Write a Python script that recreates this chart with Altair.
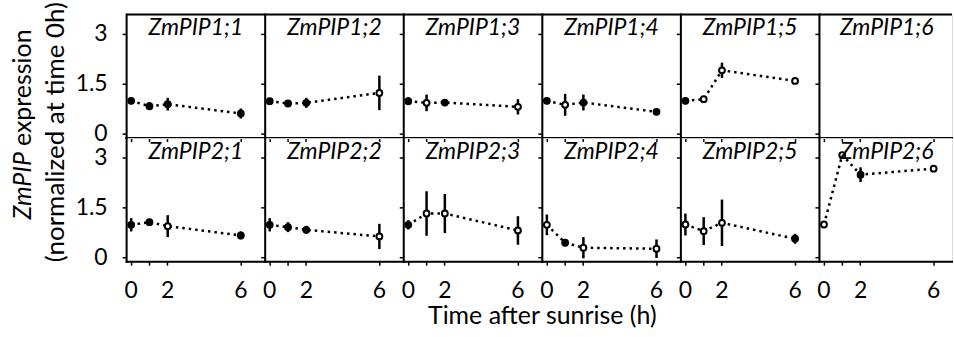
import altair as alt
import pandas as pd

FONT = "Lato"

hours = [0, 1, 2, 6]

genes_top = ["ZmPIP1;1", "ZmPIP1;2", "ZmPIP1;3", "ZmPIP1;4", "ZmPIP1;5", "ZmPIP1;6"]
genes_bottom = ["ZmPIP2;1", "ZmPIP2;2", "ZmPIP2;3", "ZmPIP2;4", "ZmPIP2;5", "ZmPIP2;6"]

# mean expression (normalized at 0 h)
mean_top = [
    [1.00, 0.84, 0.90, 0.62],
    [0.99, 0.92, 0.94, 1.24],
    [0.99, 0.94, 0.95, 0.82],
    [1.00, 0.88, 0.95, 0.67],
    [1.00, 1.05, 1.92, 1.60],
    [],
]
mean_bottom = [
    [0.99, 1.07, 0.95, 0.67],
    [0.99, 0.92, 0.84, 0.64],
    [0.99, 1.33, 1.33, 0.82],
    [0.99, 0.45, 0.30, 0.27],
    [1.00, 0.80, 1.05, 0.57],
    [1.00, 3.09, 2.50, 2.68],
]
# error (+/-)
err_top = [
    [0.10, 0.12, 0.19, 0.15],
    [0.10, 0.08, 0.15, 0.52],
    [0.12, 0.25, 0.07, 0.23],
    [0.10, 0.33, 0.24, 0.08],
    [0.10, 0.00, 0.23, 0.00],
    [],
]
err_bottom = [
    [0.20, 0.10, 0.33, 0.12],
    [0.20, 0.15, 0.12, 0.38],
    [0.14, 0.67, 0.59, 0.43],
    [0.31, 0.10, 0.32, 0.28],
    [0.33, 0.42, 0.70, 0.15],
    [0.00, 0.00, 0.22, 0.00],
]
# 1 = filled marker, 0 = open marker
filled_top = [
    [1, 1, 1, 1],
    [1, 1, 1, 0],
    [1, 0, 1, 0],
    [1, 0, 1, 1],
    [1, 0, 0, 0],
    [],
]
filled_bottom = [
    [1, 1, 0, 1],
    [1, 1, 1, 0],
    [1, 0, 0, 0],
    [0, 1, 0, 0],
    [0, 0, 0, 1],
    [0, 0, 1, 0],
]

y_ticks = [0, 1.5, 3]
x_ticks = [0, 1, 2, 6]

W = 139
W_LAST = 133
H = 124
PX_PER_H = 18.33
X_MIN = -0.25
Y_DOM = [-0.12, 3.6]


def panel(gene, means, errs, filled, row, col):
    width = W_LAST if col == 5 else W
    x_max = X_MIN + width / PX_PER_H
    n = len(means)
    df = pd.DataFrame({
        "t": pd.Series(hours[:n], dtype=float),
        "m": pd.Series(means, dtype=float),
        "lo": pd.Series([m - e for m, e in zip(means, errs)], dtype=float),
        "hi": pd.Series([m + e for m, e in zip(means, errs)], dtype=float),
        "fill": pd.Series(["black" if f else "white" for f in filled], dtype=object),
    })

    x_axis_kwargs = dict(
        values=x_ticks, grid=False, domain=True, domainColor="black", domainWidth=2,
        domainCap="square", ticks=True, tickSize=4, tickColor="black", tickWidth=1.5,
        translate=0,
        labels=(row == 1), labelFont=FONT, labelFontSize=23, labelColor="black",
        labelPadding=14, labelExpr="datum.value == 1 ? '' : toString(datum.value)",
        labelFlush=False, labelOverlap=False, title=None,
    )
    if row == 1 and col == 3:
        x_axis_kwargs.update(
            title="Time after sunrise (h)", titleFont=FONT, titleFontSize=25,
            titleFontWeight="normal", titleColor="black", titleX=0, titleY=62,
            titleAlign="center", titleBaseline="alphabetic",
        )
    x_axis = alt.Axis(**x_axis_kwargs)
    y_axis = alt.Axis(
        values=y_ticks, grid=False, domain=True, domainColor="black", domainWidth=2,
        domainCap="square", ticks=True, tickSize=4, tickColor="black", tickWidth=1.5,
        translate=0,
        labels=(col == 0), labelFont=FONT, labelFontSize=23, labelColor="black",
        labelPadding=15, labelExpr="toString(datum.value)", labelFlush=False,
        labelOverlap=False, title=None,
    )
    xs = alt.Scale(domain=[X_MIN, x_max], nice=False, zero=False)
    ys = alt.Scale(domain=Y_DOM, nice=False, zero=False)

    x_enc = alt.X("t:Q", scale=xs, axis=x_axis)
    base = alt.Chart(df)
    line = base.mark_line(color="black", strokeWidth=2.5, strokeDash=[2.5, 4]).encode(
        x=x_enc, y=alt.Y("m:Q", scale=ys, axis=y_axis)
    )
    bars = base.mark_rule(color="black", strokeWidth=2.5).encode(
        x=x_enc, y=alt.Y("lo:Q", scale=ys, axis=y_axis), y2="hi:Q"
    )
    pts = base.mark_point(shape="circle", size=34, stroke="black", strokeWidth=2,
                          opacity=1, filled=False).encode(
        x=x_enc, y=alt.Y("m:Q", scale=ys, axis=y_axis),
        fill=alt.Fill("fill:N", scale=None),
    )
    one = pd.DataFrame({"a": [0]})
    title = alt.Chart(one).mark_text(
        text=gene, font=FONT, fontSize=23, fontStyle="italic", color="black",
        align="center", baseline="alphabetic",
    ).encode(x=alt.value(width / 2 + (1 if col == 5 else 0)), y=alt.value(21))
    layers = [line, bars, pts, title]
    if row == 0:
        top = alt.Chart(one).mark_rule(color="black", strokeWidth=2).encode(
            x=alt.value(0), x2=alt.value(width), y=alt.value(0)
        )
        layers.append(top)
    if row == 0 and col == 0:
        anchor = alt.Chart(one).mark_rule(strokeOpacity=0, color="white").encode(
            x=alt.value(-126), x2=alt.value(-120), y=alt.value(-11)
        )
        yt_a = alt.Chart(one).mark_text(
            text="ZmPIP", font=FONT, fontSize=25, fontStyle="italic", color="black",
            angle=270, align="right", baseline="middle",
        ).encode(x=alt.value(-104), y=alt.value(138))
        yt_b = alt.Chart(one).mark_text(
            text="expression", font=FONT, fontSize=25, color="black",
            angle=270, align="left", baseline="middle",
        ).encode(x=alt.value(-104), y=alt.value(132))
        yt_c = alt.Chart(one).mark_text(
            text="(normalized at time 0h)", font=FONT, fontSize=26, color="black",
            angle=270, align="center", baseline="middle",
        ).encode(x=alt.value(-71), y=alt.value(118))
        layers += [anchor, yt_a, yt_b, yt_c]
    return alt.layer(*layers).properties(width=width, height=H)


panels = []
for i, (g, m, e, f) in enumerate(zip(genes_top, mean_top, err_top, filled_top)):
    panels.append(panel(g, m, e, f, 0, i))
for i, (g, m, e, f) in enumerate(zip(genes_bottom, mean_bottom, err_bottom, filled_bottom)):
    panels.append(panel(g, m, e, f, 1, i))

chart = alt.concat(*panels, columns=6, spacing=0, bounds="flush").properties(
    padding=0, background="white"
).configure_view(stroke="transparent").configure(font=FONT)

chart.save("out.html", embed_options={"renderer": "svg", "actions": False})
